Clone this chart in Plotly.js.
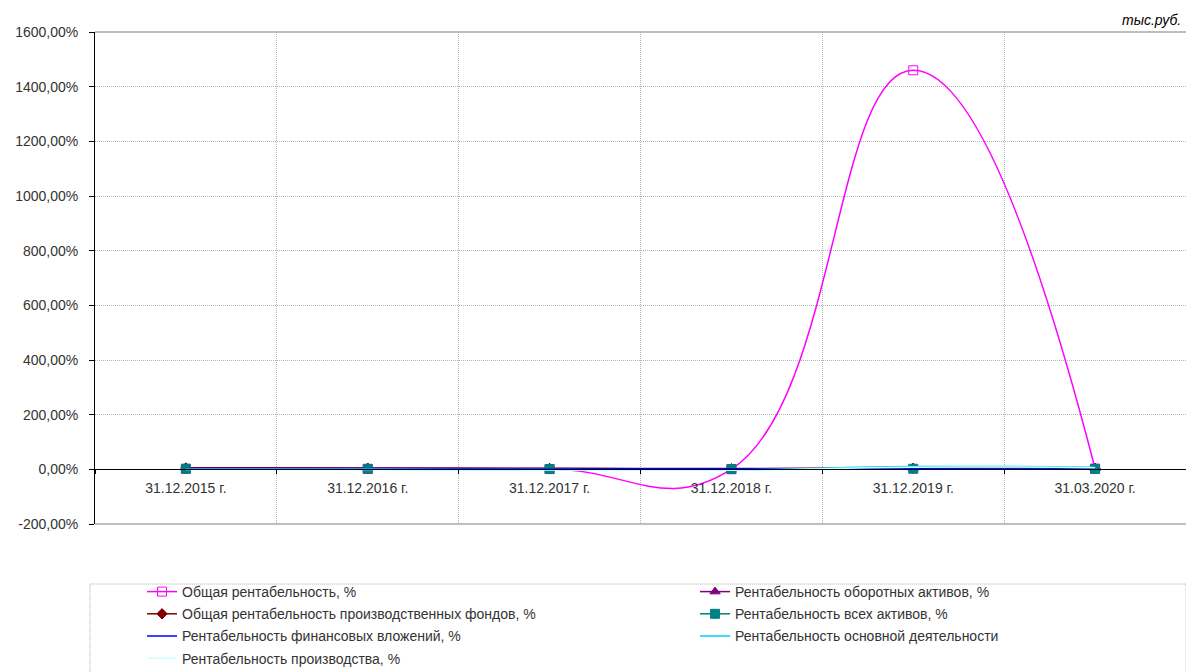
<!DOCTYPE html>
<html>
<head>
<meta charset="utf-8">
<script src="https://cdn.plot.ly/plotly-3.0.1.min.js"></script>
<style>html,body{margin:0;padding:0;background:#fff;}#chart{width:1186px;height:672px;}</style>
</head>
<body>
<div id="chart"></div>
<script>
// ---- data ----
var categories = ["31.12.2015 г.", "31.12.2016 г.", "31.12.2017 г.", "31.12.2018 г.", "31.12.2019 г.", "31.03.2020 г."];
var seriesNames = [
  "Общая рентабельность, %",
  "Рентабельность оборотных активов, %",
  "Общая рентабельность производственных фондов, %",
  "Рентабельность всех активов, %",
  "Рентабельность финансовых вложений, %",
  "Рентабельность основной деятельности",
  "Рентабельность производства, %"
];
var obshayaRent      = [2, 1, 1, 0.5, 1460, 3];
var oborotnyeAktivy  = [6, 5, 4, 3, 5, 4];
var proizvFondy      = [5, 4, 3, 2, 4, 3];
var vseAktivy        = [2, 2, 1, 1, 2, 1];
var finVlozheniya    = [3, 3, 2, 2, 2, 1];
var osnovnayaDeyat   = [0, 0, -1, -2, 10, 8];
var proizvodstvo     = [-1, -1, -2, -3, 8, 6];
var yTickVals = [-200, 0, 200, 400, 600, 800, 1000, 1200, 1400, 1600];
var yTickText = ["-200,00%", "0,00%", "200,00%", "400,00%", "600,00%", "800,00%", "1000,00%", "1200,00%", "1400,00%", "1600,00%"];

// ---- styles ----
var colors = ["#FF00FF", "#800080", "#800000", "#008080", "#0000FF", "#00CCFF", "#CCFFFF"];
var markers = [
  {symbol: "square-open", size: 9},
  {symbol: "triangle-up", size: 9},
  {symbol: "diamond", size: 8},
  {symbol: "square", size: 9},
  null, null, null
];
var values = [obshayaRent, oborotnyeAktivy, proizvFondy, vseAktivy, finVlozheniya, osnovnayaDeyat, proizvodstvo];
var legendOf = ["legend", "legend2", "legend", "legend2", "legend", "legend2", "legend"];

var traces = values.map(function (v, i) {
  var t = {
    type: "scatter",
    x: categories,
    y: v,
    name: seriesNames[i],
    legend: legendOf[i],
    legendgroup: "g" + i,
    mode: markers[i] ? "lines+markers" : "lines",
    line: {color: colors[i], width: 1.5, shape: "spline", smoothing: 1.3},
    hoverinfo: "x+y+name"
  };
  if (markers[i]) {
    t.marker = {symbol: markers[i].symbol, size: markers[i].size, color: colors[i],
                line: {color: colors[i], width: 1}};
  }
  return t;
});
var font = {family: "Liberation Sans, Arial, sans-serif", size: 14, color: "#333"};

var layout = {
  width: 1186, height: 672,
  margin: {l: 95, r: 0, t: 32, b: 148, pad: 0, autoexpand: false},
  paper_bgcolor: "#fff", plot_bgcolor: "#fff",
  font: font,
  showlegend: true,
  xaxis: {
    type: "category",
    anchor: "free",
    position: 200 / 1800,
    tickson: "boundaries",
    ticks: "outside", ticklen: 4, tickcolor: "#000", tickwidth: 1,
    ticklabelstandoff: 6,
    showline: true, linecolor: "#000", linewidth: 1,
    showgrid: true, gridcolor: "#b5b5b5", griddash: "1px,1px", gridwidth: 1,
    tickfont: font,
    range: [-0.5, 5.5],
    zeroline: false,
    fixedrange: true
  },
  yaxis: {
    range: [-200, 1600],
    tickvals: yTickVals,
    ticktext: yTickText,
    ticks: "outside", ticklen: 5, tickcolor: "#000",
    ticklabelstandoff: 8,
    showline: true, linecolor: "#000", linewidth: 1,
    showgrid: true, gridcolor: "#b5b5b5", griddash: "1px,1px",
    zeroline: false,
    tickfont: font,
    fixedrange: true
  },
  legend: {
    x: 0.0431, xanchor: "left", y: -0.1057, yanchor: "top",
    orientation: "v", bgcolor: "rgba(0,0,0,0)", borderwidth: 0,
    font: font, tracegroupgap: 1, itemclick: false
  },
  legend2: {
    x: 0.55, xanchor: "left", y: -0.1057, yanchor: "top",
    orientation: "v", bgcolor: "rgba(0,0,0,0)", borderwidth: 0,
    font: font, tracegroupgap: 1, itemclick: false
  },
  shapes: [
    {type: "line", xref: "paper", yref: "paper", x0: 0, x1: 1, y0: 1, y1: 1,
     line: {color: "#aaa", width: 1.5}},
    {type: "line", xref: "paper", yref: "paper", x0: 0, x1: 1, y0: 0, y1: 0,
     line: {color: "#aaa", width: 1.5}},
    {type: "rect", xref: "paper", yref: "paper", x0: -0.0046, x1: 1, y0: -0.40, y1: -0.122,
     line: {color: "#aaa", width: 1, dash: "1px,1px"}}
  ],
  annotations: [
    {text: "<i>тыс.руб.</i>", xref: "paper", yref: "paper", x: 1, y: 1, xanchor: "right",
     yanchor: "bottom", xshift: -3, yshift: 2, showarrow: false,
     font: {family: "Liberation Sans, Arial, sans-serif", size: 14, color: "#000"}}
  ]
};

Plotly.newPlot("chart", traces, layout, {displayModeBar: false, staticPlot: true});
</script>
</body>
</html>
